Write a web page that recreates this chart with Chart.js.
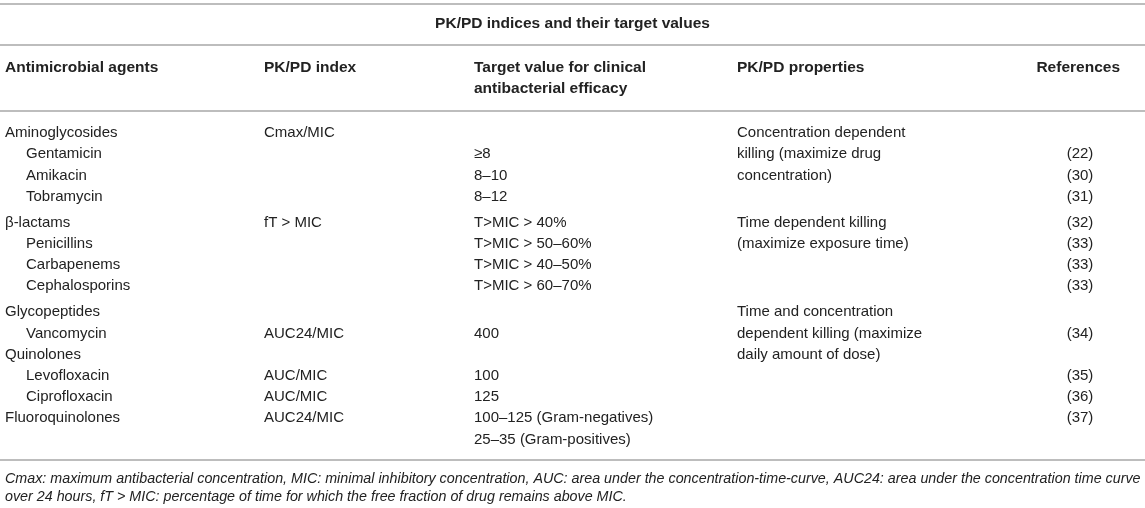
<!DOCTYPE html>
<html>
<head>
<meta charset="utf-8">
<script src="https://cdn.jsdelivr.net/npm/chart.js@4.4.1/dist/chart.umd.min.js"></script>
<style>
  html, body { margin: 0; padding: 0; background: #fff; }
  #wrap { width: 1145px; height: 508px; position: relative; }
</style>
</head>
<body>
<div id="wrap"><canvas id="tbl"></canvas></div>
<script>
// table content
const tableTitle = "PK/PD indices and their target values";
const headers = ["Antimicrobial agents", "PK/PD index", ["Target value for clinical", "antibacterial efficacy"], "PK/PD properties", "References"];

const agents = ["Aminoglycosides", "Gentamicin", "Amikacin", "Tobramycin",
  "β-lactams", "Penicillins", "Carbapenems", "Cephalosporins",
  "Glycopeptides", "Vancomycin", "Quinolones", "Levofloxacin", "Ciprofloxacin", "Fluoroquinolones"];
const agentLevel = [0, 1, 1, 1, 0, 1, 1, 1, 0, 1, 0, 1, 1, 0];
const rowSection = [0, 0, 0, 0, 1, 1, 1, 1, 2, 2, 2, 2, 2, 2];
const pkpdIndex = ["Cmax/MIC", "", "", "", "fT > MIC", "", "", "", "", "AUC24/MIC", "", "AUC/MIC", "AUC/MIC", "AUC24/MIC"];
const targetValues = ["", "≥8", "8–10", "8–12", "T>MIC > 40%", "T>MIC > 50–60%", "T>MIC > 40–50%", "T>MIC > 60–70%",
  "", "400", "", "100", "125", ["100–125 (Gram-negatives)", "25–35 (Gram-positives)"]];
const pkpdProperties = ["Concentration dependent", "killing (maximize drug", "concentration)", "",
  "Time dependent killing", "(maximize exposure time)", "", "",
  "Time and concentration", "dependent killing (maximize", "daily amount of dose)", "", "", ""];
const references = ["", "(22)", "(30)", "(31)", "(32)", "(33)", "(33)", "(33)", "", "(34)", "", "(35)", "(36)", "(37)"];
const footnote = [
  "Cmax: maximum antibacterial concentration, MIC: minimal inhibitory concentration, AUC: area under the concentration-time-curve, AUC24: area under the concentration time curve",
  "over 24 hours, fT > MIC: percentage of time for which the free fraction of drug remains above MIC."
];

// layout (x in canvas units, y in row units)
const COL_X = [5, 264, 474, 737, 1080];
const REF_HEADER_RIGHT = 1120;
const INDENT = 21;
const GAP = 0.23;
const TITLE_Y = -5.14;
const HEADER_Y = -3.07;
const FOOT_Y = [16.32, 17.17];
const RULES = [-6.08, -4.15, -1.04, 15.42];
const FONT = "'Liberation Sans', Arial, Helvetica, sans-serif";
const INK = "#222";

const rowY = (i) => i + rowSection[i] * GAP;

const regular = [], bold = [], italic = [], refs = [];
bold.push({ x: 572.5, y: TITLE_Y, text: tableTitle, align: "center" });
headers.forEach((h, c) => {
  const lines = Array.isArray(h) ? h : [h];
  lines.forEach((t, k) => {
    if (c === 4) bold.push({ x: REF_HEADER_RIGHT, y: HEADER_Y, text: t, align: "right" });
    else bold.push({ x: COL_X[c], y: HEADER_Y + k * 0.99, text: t });
  });
});
agents.forEach((a, i) => {
  const y = rowY(i);
  regular.push({ x: COL_X[0] + agentLevel[i] * INDENT, y, text: a });
  if (pkpdIndex[i]) regular.push({ x: COL_X[1], y, text: pkpdIndex[i] });
  const tv = Array.isArray(targetValues[i]) ? targetValues[i] : [targetValues[i]];
  tv.forEach((t, k) => { if (t) regular.push({ x: COL_X[2], y: y + k, text: t }); });
  if (pkpdProperties[i]) regular.push({ x: COL_X[3], y, text: pkpdProperties[i] });
  if (references[i]) refs.push({ x: COL_X[4], y, text: references[i], align: "center" });
});
footnote.forEach((t, k) => italic.push({ x: 5, y: FOOT_Y[k], text: t }));

const mkSet = (data, font) => ({ data, font, pointRadius: 0, showLine: false });

const cellText = {
  id: "cellText",
  afterDatasetsDraw(chart) {
    const { ctx, chartArea, scales } = chart;
    ctx.save();
    ctx.strokeStyle = "#bdbdbd";
    ctx.lineWidth = 2;
    RULES.forEach((r) => {
      const py = Math.round(scales.y.getPixelForValue(r));
      ctx.beginPath();
      ctx.moveTo(chartArea.left, py);
      ctx.lineTo(chartArea.right, py);
      ctx.stroke();
    });
    ctx.fillStyle = INK;
    ctx.textBaseline = "middle";
    chart.data.datasets.forEach((ds, di) => {
      const meta = chart.getDatasetMeta(di);
      ctx.font = ds.font;
      meta.data.forEach((pt, j) => {
        const cell = ds.data[j];
        ctx.textAlign = cell.align || "left";
        ctx.fillText(cell.text, pt.x, pt.y);
      });
    });
    ctx.restore();
  }
};

new Chart(document.getElementById("tbl"), {
  type: "scatter",
  data: {
    datasets: [
      mkSet(regular, "15px " + FONT),
      mkSet(bold, "bold 15.5px " + FONT),
      mkSet(refs, "15px " + FONT),
      mkSet(italic, "italic 14.3px " + FONT)
    ]
  },
  options: {
    responsive: true,
    maintainAspectRatio: false,
    animation: false,
    layout: { padding: 0 },
    plugins: { legend: { display: false }, tooltip: { enabled: false } },
    scales: {
      x: { type: "linear", min: 0, max: 1145, display: false },
      y: { type: "linear", min: -6.274, max: 17.689, reverse: true, display: false }
    }
  },
  plugins: [cellText]
});
</script>
</body>
</html>
